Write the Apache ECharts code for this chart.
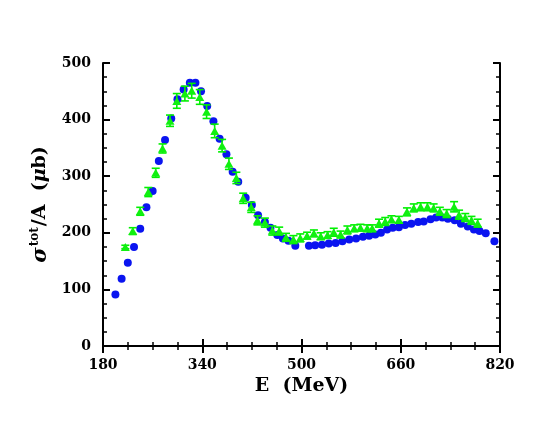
<!DOCTYPE html>
<html><head><meta charset="utf-8">
<script src="https://cdn.jsdelivr.net/npm/echarts@6/dist/echarts.min.js"></script>
<style>html,body{margin:0;padding:0;background:#fff}#c{width:554px;height:428px}</style>
</head><body><div id="c"></div>
<script>
// Blue circles (no error bars)
var blueE = [200,210,220,230,240,250,260,270,280,290,300,310,320,329,338,348,358,368,379,389,398,410,420,430,441,450,461,470,479,490,512,522,533,544,555,566,577,588,599,609,619,628,638,647,657,667,677,688,697,708,717,727,736,747,757,768,778,787,797,811];
var blueY = [91,119,147,175,207,245,274,327,364,402,436,453,465,465,450,424,397,366,339,308,290,262,249,231,219,209,196,190,186,177,177,178,179,181,182,185,188,190,193,195,197,200,206,209,210,214,216,219,220,224,227,227,225,222,216,211,206,203,199,185];
// Green triangles with error bars
var greenE = [216,228,240,253,265,276,288,299,312,323,336,347,360,372,383,395,406,419,429,441,453,464,475,487,498,509,520,531,542,552,563,574,585,595,606,614,625,635,645,657,670,681,692,703,713,723,734,746,754,764,774,784];
var greenY = [175,203,238,272,306,349,398,433,446,451,440,414,380,354,322,297,261,245,222,218,204,203,192,188,191,195,199,194,196,201,197,205,208,209,208,208,217,220,224,223,237,244,246,246,244,238,234,246,232,227,222,217];
var greenErr = [3,6,7,8,8,8,10,13,13,13,13,12,12,11,10,10,9,9,8,8,8,7,7,7,7,6,6,6,6,7,6,7,6,6,6,6,7,7,6,6,7,7,7,7,7,7,7,9,8,7,7,7];
var xTicks = [180,340,500,660,820];
var yTicks = [0,100,200,300,400,500];

var blueData = blueE.map(function(e,i){return [e, blueY[i]];});
var greenData = greenE.map(function(e,i){return [e, greenY[i]];});
var errData = greenE.map(function(e,i){return [e, greenY[i], greenErr[i]];});

var FONT = 'DejaVu Serif';
function axisCommon(showLabel){
  return {
    axisLine:{show:true, lineStyle:{color:'#000', width:2}},
    axisTick:{show:true, inside:true, length:7, lineStyle:{color:'#000', width:2}},
    minorTick:{show:true, splitNumber:4, length:4, lineStyle:{color:'#000', width:1.5}},
    splitLine:{show:false}, minorSplitLine:{show:false},
    axisLabel:{show:showLabel, color:'#000', fontFamily:FONT, fontWeight:'bold', fontSize:14}
  };
}
var xMain = Object.assign(axisCommon(true), {type:'value', position:'bottom', min:xTicks[0], max:xTicks[xTicks.length-1], interval:xTicks[1]-xTicks[0],
  name:'E  (MeV)', nameLocation:'middle', nameGap:26,
  nameTextStyle:{color:'#000', fontFamily:FONT, fontWeight:'bold', fontSize:19}});
xMain.axisLabel.margin = 12;
var xTop = Object.assign(axisCommon(false), {type:'value', position:'top', min:xTicks[0], max:xTicks[xTicks.length-1], interval:xTicks[1]-xTicks[0]});
var yMain = Object.assign(axisCommon(true), {type:'value', position:'left', min:yTicks[0], max:yTicks[yTicks.length-1], interval:yTicks[1]-yTicks[0],
  name:'{s|σ}{sup|tot}{n|/A  (}{m|μ}{n|b)}', nameLocation:'middle', nameGap:45, nameRotate:90,
  nameTextStyle:{color:'#000', rich:{
    s:{fontFamily:FONT, fontStyle:'italic', fontWeight:'bold', fontSize:21, color:'#000'},
    sup:{fontFamily:FONT, fontWeight:'bold', fontSize:12, color:'#000', padding:[0,1,12,1]},
    n:{fontFamily:FONT, fontWeight:'bold', fontSize:19, color:'#000'},
    m:{fontFamily:FONT, fontStyle:'italic', fontWeight:'bold', fontSize:19, color:'#000'}
  }}});
yMain.axisLabel.margin = 12;
var yRight = Object.assign(axisCommon(false), {type:'value', position:'right', min:yTicks[0], max:yTicks[yTicks.length-1], interval:yTicks[1]-yTicks[0]});

var chart = echarts.init(document.getElementById('c'), null, {renderer:'canvas'});
chart.setOption({
  backgroundColor:'#fff',
  animation:false,
  grid:{left:103, right:54, top:63, bottom:82},
  xAxis:[xMain, xTop],
  yAxis:[yMain, yRight],
  series:[
    {type:'scatter', xAxisIndex:0, yAxisIndex:0, data:blueData, symbol:'circle', symbolSize:8,
     itemStyle:{color:'#0a14f0', opacity:1}, z:2},
    {type:'custom', xAxisIndex:0, yAxisIndex:0, data:errData, z:3,
     encode:{x:0, y:1},
     renderItem:function(params, api){
       var x = api.value(0), y = api.value(1), e = api.value(2);
       var t = api.coord([x, y+e]), b = api.coord([x, y-e]);
       var w = 4, st = {stroke:'#00f000', lineWidth:1.6};
       return {type:'group', children:[
         {type:'line', shape:{x1:t[0], y1:t[1], x2:b[0], y2:b[1]}, style:st},
         {type:'line', shape:{x1:t[0]-w, y1:t[1], x2:t[0]+w, y2:t[1]}, style:st},
         {type:'line', shape:{x1:b[0]-w, y1:b[1], x2:b[0]+w, y2:b[1]}, style:st}
       ]};
     }},
    {type:'scatter', xAxisIndex:0, yAxisIndex:0, data:greenData, symbol:'triangle', symbolSize:[9,8],
     itemStyle:{color:'#10f010', opacity:1}, z:4}
  ]
});
</script></body></html>
